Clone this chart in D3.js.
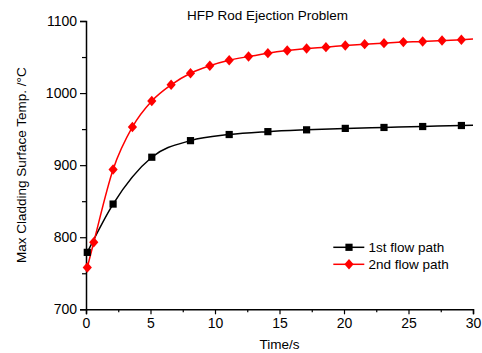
<!DOCTYPE html>
<html><head><meta charset="utf-8">
<script src="https://cdn.jsdelivr.net/npm/d3@7"></script>
<style>
html,body{margin:0;padding:0;background:#fff;}
svg{display:block;font-family:"Liberation Sans",Arial,sans-serif;}
</style></head>
<body><svg id="c" width="482" height="353"></svg>
<script>
// ---- data ----
const title = "HFP Rod Ejection Problem";
const xLabel = "Time/s";
const yLabel = "Max Cladding Surface Temp. /\u00B0C";
const xTicks = [0, 5, 10, 15, 20, 25, 30];
const yTicks = [700, 800, 900, 1000, 1100];
const series1Name = "1st flow path";
const series1Time = [0.1, 2.1, 5.1, 8.1, 11.1, 14.1, 17.1, 20.1, 23.1, 26.1, 29.1, 30];
const series1Temp = [779, 846, 911, 934, 942.5, 946.5, 949, 951, 952.3, 953.6, 955, 955.3];
const series2Name = "2nd flow path";
const series2Time = [0.1, 0.6, 2.1, 3.6, 5.1, 6.6, 8.1, 9.6, 11.1, 12.6, 14.1, 15.6, 17.1, 18.6, 20.1, 21.6, 23.1, 24.6, 26.1, 27.6, 29.1, 30];
const series2Temp = [758, 793, 894, 953, 989, 1011.5, 1027.5, 1038, 1045.5, 1050.7, 1055.4, 1059, 1061.8, 1063.7, 1066, 1067.9, 1069.3, 1070.7, 1071.5, 1072.9, 1073.9, 1074.9];

// ---- layout ----
const svg = d3.select("#c");
const L = 86, R = 473, T = 21, B = 309.3;
const x = d3.scaleLinear().domain([0, 30]).range([L, R]);
const y = d3.scaleLinear().domain([700, 1100]).range([B, T]);

// minor ticks
const xMinor = d3.range(2.5, 30, 5);
const yMinor = d3.range(750, 1100, 100);

const gx = svg.append("g").attr("transform", `translate(0,${B})`);
gx.call(d3.axisBottom(x).tickValues(xTicks).tickSize(5).tickPadding(4).tickFormat(d3.format("d")));
gx.append("g").call(d3.axisBottom(x).tickValues(xMinor).tickSize(3).tickFormat(""))
  .select(".domain").remove();
const gy = svg.append("g").attr("transform", `translate(${L},0)`);
gy.call(d3.axisLeft(y).tickValues(yTicks).tickSize(6).tickPadding(3).tickFormat(d3.format("d")));
gy.append("g").call(d3.axisLeft(y).tickValues(yMinor).tickSize(4).tickFormat(""))
  .select(".domain").remove();

svg.selectAll(".domain").attr("stroke", "#000").attr("stroke-width", 1.5);
svg.selectAll(".tick line").attr("stroke", "#000").attr("stroke-width", 1.2);
svg.selectAll(".tick text").attr("font-size", 14).attr("fill", "#000")
  .attr("font-family", "'Liberation Sans', Arial, sans-serif");

// titles
svg.append("text").attr("x", 267.5).attr("y", 20).attr("text-anchor", "middle")
  .attr("font-size", 13.5).text(title);
svg.append("text").attr("x", (L + R) / 2).attr("y", 349).attr("text-anchor", "middle")
  .attr("font-size", 13.5).text(xLabel);
svg.append("text").attr("transform", `translate(26,${(T + B) / 2}) rotate(-90)`)
  .attr("text-anchor", "middle").attr("font-size", 13.5).text(yLabel);

// lines
const line = d3.line().x(d => x(d[0])).y(d => y(d[1])).curve(d3.curveMonotoneX);
const s1 = series1Time.map((t, i) => [t, series1Temp[i]]);
const s2 = series2Time.map((t, i) => [t, series2Temp[i]]);

svg.append("path").attr("d", line(s1)).attr("fill", "none").attr("stroke", "#000").attr("stroke-width", 1.5);
svg.append("path").attr("d", line(s2)).attr("fill", "none").attr("stroke", "#ff0000").attr("stroke-width", 1.5);

const sq = d3.symbol().type(d3.symbolSquare).size(52);
const dm = "M0,-5.2L4.6,0L0,5.2L-4.6,0Z";

svg.append("g").selectAll("path").data(s1.slice(0, -1)).join("path")
  .attr("d", sq).attr("transform", d => `translate(${x(d[0])},${y(d[1])})`).attr("fill", "#000");
svg.append("g").selectAll("path").data(s2.slice(0, -1)).join("path")
  .attr("d", dm).attr("transform", d => `translate(${x(d[0])},${y(d[1])})`).attr("fill", "#ff0000");

// legend
const lg = svg.append("g");
const rows = [{name: series1Name, color: "#000", sym: sq}, {name: series2Name, color: "#ff0000", sym: dm}];
rows.forEach((r, i) => {
  const yy = 247.3 + i * 17;
  lg.append("line").attr("x1", 333.3).attr("x2", 364.3).attr("y1", yy).attr("y2", yy)
    .attr("stroke", r.color).attr("stroke-width", 1.5);
  lg.append("path").attr("d", r.sym).attr("transform", `translate(349,${yy})`).attr("fill", r.color);
  lg.append("text").attr("x", 368.5).attr("y", yy + 5).attr("font-size", 13.5).text(r.name);
});
</script></body></html>
